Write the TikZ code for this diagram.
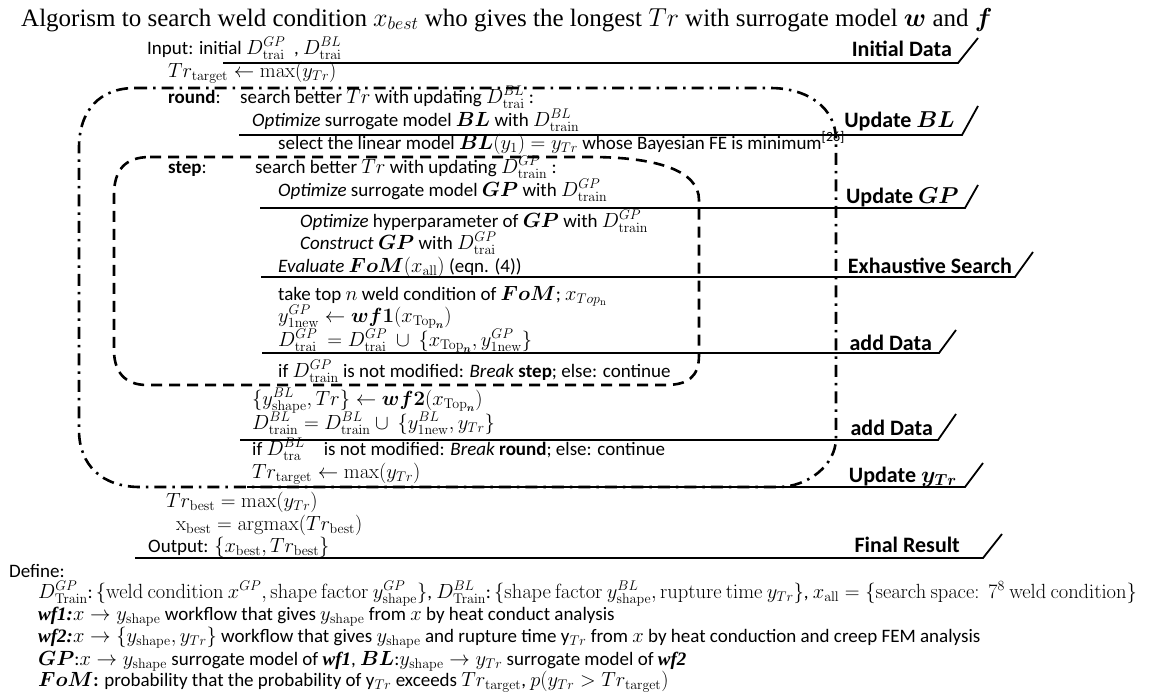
\RequirePackage{fix-cm}
\documentclass[tikz,border=0pt]{standalone}
\usepackage{amsmath}
\usepackage[no-math]{fontspec}
\setmainfont{Carlito}
\newfontfamily\titlefont{Liberation Serif}
\DeclareMathSizes{19}{20.5}{14}{10.5}
\DeclareMathSizes{25}{26}{18}{13}
\DeclareMathSizes{22}{23}{16}{12}
\begin{document}
\begin{tikzpicture}[x=1pt,y=-1pt,
  txt/.style={anchor=base west,inner sep=0pt,font=\fontsize{19}{22}\selectfont},
  lbl/.style={anchor=base east,inner sep=0pt,font=\fontsize{22}{24}\selectfont\bfseries},
  rulel/.style={line width=1.8pt},
  roundloop/.style={line width=2.6pt,dash pattern=on 12pt off 6pt on 2.5pt off 6pt},
  steploop/.style={line width=2.6pt,dash pattern=on 11pt off 7pt}]
\useasboundingbox (0,0) rectangle (1150,699);
\fill[white] (0,0) rectangle (1150,699);
% title
\node[anchor=base west,inner sep=0pt,font=\titlefont\fontsize{25}{28}\selectfont] (title) at (21,26)
  {Algorism to search weld condition $x_{best}$ who gives the longest $Tr$ with surrogate model $\boldsymbol{w}$ and $\boldsymbol{f}$};
% loops
\draw[roundloop] (135,88) -- (770,88) .. controls (808,88) and (836,108) .. (836,140) -- (836,438)
  .. controls (836,465) and (808,487) .. (778,487) -- (140,487)
  .. controls (102,487) and (79,465) .. (79,430) -- (79,148) .. controls (79,110) and (100,88) .. (135,88);
\draw[steploop] (150,157) -- (590,157) .. controls (655,157) and (699,170) .. (699,200) -- (699,355)
  .. controls (699,377) and (688,385) .. (665,385) -- (147,385)
  .. controls (125,385) and (114,372) .. (114,350) -- (114,195) .. controls (114,170) and (125,157) .. (150,157);
% text lines
\node[txt] (tin) at (147,54) {Input: initial $D^{GP}_{\mathrm{trai}}$\ \ , $D^{BL}_{\mathrm{trai}}$};
\node[txt] (ttg) at (168,77) {$Tr_{\mathrm{target}} \leftarrow \max(y_{Tr})$};
\node[txt] (trd) at (168,103) {\textbf{round}:};
\node[txt] (tsb) at (240,103) {search better $Tr$ with updating $D^{BL}_{\mathrm{trai}}$ :};
\node[txt] (tob) at (252,126) {\textit{Optimize} surrogate model $\boldsymbol{BL}$ with $D^{BL}_{\mathrm{train}}$};
\node[txt] (tsl) at (278,149) {select the linear model $\boldsymbol{BL}(y_1) = y_{Tr}$ whose Bayesian FE is minimum\textsuperscript{[26]}};
\node[txt] (tst) at (168,173) {\textbf{step}:};
\node[txt] (tsg) at (255,173) {search better $Tr$ with updating $D^{GP}_{\mathrm{train}}$ :};
\node[txt] (tog) at (278,196) {\textit{Optimize} surrogate model $\boldsymbol{GP}$ with $D^{GP}_{\mathrm{train}}$};
\node[txt] (toh) at (300,227) {\textit{Optimize} hyperparameter of $\boldsymbol{GP}$ with $D^{GP}_{\mathrm{train}}$};
\node[txt] (tcg) at (300,249) {\textit{Construct} $\boldsymbol{GP}$ with $D^{GP}_{\mathrm{trai}}$};
\node[txt] (tev) at (278,272) {\textit{Evaluate} $\boldsymbol{FoM}(x_{\mathrm{all}})$ (eqn. (4))};
\node[txt] (ttk) at (278,300) {take top $n$ weld condition of $\boldsymbol{FoM}$; $x_{Top_{\mathrm{n}}}$};
\node[txt] (tyn) at (278,322) {$y^{GP}_{\mathrm{1new}} \leftarrow \boldsymbol{wf1}(x_{\mathrm{Top}_{\boldsymbol{n}}})$};
\node[txt] (tdg) at (278,346) {$D^{GP}_{\mathrm{trai}}\ = D^{GP}_{\mathrm{trai}}\ \cup\ \{x_{\mathrm{Top}_{\boldsymbol{n}}}, y^{GP}_{\mathrm{1new}}\}$};
\node[txt] (tig) at (278,377) {if $D^{GP}_{\mathrm{train}}$ is not modified: \textit{Break} \textbf{step}; else: continue};
\node[txt] (tys) at (252,405) {$\{y^{BL}_{\mathrm{shape}}, Tr\} \leftarrow \boldsymbol{wf2}(x_{\mathrm{Top}_{\boldsymbol{n}}})$};
\node[txt] (tdb) at (252,429) {$D^{BL}_{\mathrm{train}} = D^{BL}_{\mathrm{train}} \cup\ \{y^{BL}_{\mathrm{1new}}, y_{Tr}\}$};
\node[txt] (tib) at (252,455) {if $D^{BL}_{\mathrm{tra}}$\quad is not modified: \textit{Break} \textbf{round}; else: continue};
\node[txt] (ttu) at (252,478) {$Tr_{\mathrm{target}} \leftarrow \max(y_{Tr})$};
\node[txt] (ttb) at (166,507) {$Tr_{\mathrm{best}} = \max(y_{Tr})$};
\node[txt] (txb) at (176,530) {$\mathrm{x}_{\mathrm{best}} = \operatorname{argmax}(Tr_{\mathrm{best}})$};
\node[txt] (tout) at (148,552) {Output: $\{x_{\mathrm{best}}, Tr_{\mathrm{best}}\}$};
\node[txt] (tdef) at (9,577) {Define:};
\node[txt] (td1) at (38,598) {$D^{GP}_{\mathrm{Train}}$:\,$\{\mathrm{weld\ condition}\ x^{GP}, \mathrm{shape\ factor}\ y^{GP}_{\mathrm{shape}}\}$,\ $D^{BL}_{\mathrm{Train}}$:\,$\{\mathrm{shape\ factor}\ y^{BL}_{\mathrm{shape}}, \mathrm{rupture\ time}\ y_{Tr}\}$, $x_{\mathrm{all}} = \{\mathrm{search\ space{:}}\ \ 7^8\ \mathrm{weld\ condition}\}$};
\node[txt] (td2) at (38,620) {{\titlefont\bfseries\itshape wf1:}$x \rightarrow y_{\mathrm{shape}}$ workflow that gives $y_{\mathrm{shape}}$ from $x$ by heat conduct analysis};
\node[txt] (td3) at (38,642) {{\titlefont\bfseries\itshape wf2:}$x \rightarrow \{y_{\mathrm{shape}}, y_{Tr}\}$ workflow that gives $y_{\mathrm{shape}}$ and rupture time y$_{Tr}$ from $x$ by heat conduction and creep FEM analysis};
\node[txt] (td4) at (38,665) {$\boldsymbol{GP}$:$x \rightarrow y_{\mathrm{shape}}$ surrogate model of {\titlefont\bfseries\itshape wf1}, $\boldsymbol{BL}$:$y_{\mathrm{shape}} \rightarrow y_{Tr}$ surrogate model of {\titlefont\bfseries\itshape wf2}};
\node[txt] (td5) at (38,686) {$\boldsymbol{FoM}$\textbf{:} probability that the probability of y$_{Tr}$ exceeds $Tr_{\mathrm{target}}$, $p(y_{Tr} > Tr_{\mathrm{target}})$};
% section labels
\node[lbl] (lid) at (952,56) {Initial Data};
\node[lbl] (lbl) at (955,127) {Update $\boldsymbol{BL}$};
\node[lbl] (lgp) at (959,203) {Update $\boldsymbol{GP}$};
\node[lbl] (les) at (1012,273) {Exhaustive Search};
\node[lbl] (lad) at (932,350) {add Data};
\node[lbl] (lad2) at (933,435) {add Data};
\node[lbl] (lyt) at (957,482) {Update $\boldsymbol{y_{Tr}}$};
\node[lbl] (lfr) at (960,552) {Final Result};
% rules with slashes
\coordinate (r1a) at (223,63);  \coordinate (r1b) at (958,63);  \coordinate (r1c) at (978,38);
\coordinate (r2a) at (239,135); \coordinate (r2b) at (962,135); \coordinate (r2c) at (978,106);
\coordinate (r3a) at (260,208); \coordinate (r3b) at (965,208); \coordinate (r3c) at (978,185);
\coordinate (r4a) at (261,277); \coordinate (r4b) at (1015,277); \coordinate (r4c) at (1033,252);
\coordinate (r5a) at (262,353); \coordinate (r5b) at (939,353); \coordinate (r5c) at (956,330);
\coordinate (r6a) at (240,440); \coordinate (r6b) at (938,440); \coordinate (r6c) at (956,414);
\coordinate (r7a) at (247,487); \coordinate (r7b) at (965,487); \coordinate (r7c) at (983,463);
\coordinate (r8a) at (135,558); \coordinate (r8b) at (983,558); \coordinate (r8c) at (1002,534);
\foreach \i in {1,...,8}{\draw[rulel] (r\i a) -- (r\i b) -- (r\i c);}
\end{tikzpicture}
\end{document}
